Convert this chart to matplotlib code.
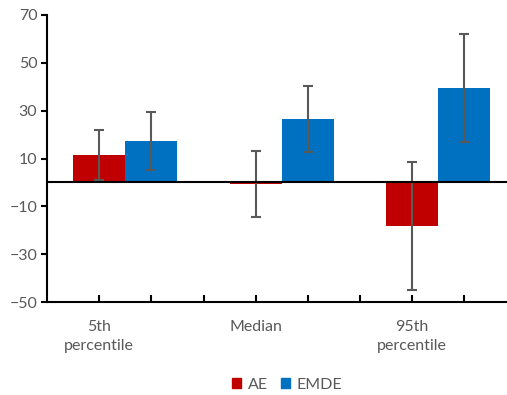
import matplotlib.pyplot as plt
import numpy as np
from matplotlib.patches import Patch

plt.rcParams['font.family'] = ['Lato', 'DejaVu Sans']

categories = ["5th\npercentile", "Median", "95th\npercentile"]
ae = [11.5, -0.5, -18.1]
ae_lo = [1.0, -14.5, -45.0]
ae_hi = [22.1, 13.1, 8.7]
emde = [17.2, 26.5, 39.4]
emde_lo = [5.1, 12.8, 16.9]
emde_hi = [29.6, 40.2, 62.1]

red = "#C00000"
blue = "#0070C0"
grey = "#595959"

fig = plt.figure(figsize=(5.07, 3.95), dpi=100)
ax = fig.add_axes([47/507, 93/395, 460/507, 287/395])

x = np.arange(len(categories))
w = 1/3
ae = np.array(ae); emde = np.array(emde)
ax.bar(x - w/2, ae, w, color=red, zorder=2)
ax.bar(x + w/2, emde, w, color=blue, zorder=2)
ax.errorbar(x - w/2, ae, yerr=[ae - np.array(ae_lo), np.array(ae_hi) - ae],
            fmt='none', ecolor=grey, elinewidth=1.5, capsize=3.5, capthick=1.5, zorder=3)
ax.errorbar(x + w/2, emde, yerr=[emde - np.array(emde_lo), np.array(emde_hi) - emde],
            fmt='none', ecolor=grey, elinewidth=1.5, capsize=3.5, capthick=1.5, zorder=3)
ax.axhline(0, color='black', lw=1.5, zorder=4)

ax.set_xlim(-0.5, -0.5 + 460/156.5)
ax.set_ylim(-50, 70)
ax.set_yticks([70, 50, 30, 10, -10, -30, -50])
ax.set_xticks(-1/6 + np.arange(8)/3)
ax.set_xticklabels([])
ax.tick_params(axis='y', direction='out', length=4, width=1.5, colors='black',
               labelcolor=grey, labelsize=11.5, pad=3)
ax.tick_params(axis='x', direction='in', length=5, width=1.5, colors='black')
for s in ['top', 'right']:
    ax.spines[s].set_visible(False)
for s in ['left', 'bottom']:
    ax.spines[s].set_linewidth(1.5)

for xi, lab in zip(x - w/2, categories):
    ax.text(xi, -57.5, lab, ha='center', va='top', color=grey, fontsize=11.5,
            linespacing=1.5)

handles = [Patch(color=red, label='AE'), Patch(color=blue, label='EMDE')]
fig.legend(handles=handles, loc='center', bbox_to_anchor=(287/507, 1 - 385/395),
           ncol=2, frameon=False, fontsize=11.5, labelcolor=grey,
           handlelength=0.6, handleheight=0.6, handletextpad=0.4, columnspacing=0.8)

fig.savefig("out.png", dpi=100)
